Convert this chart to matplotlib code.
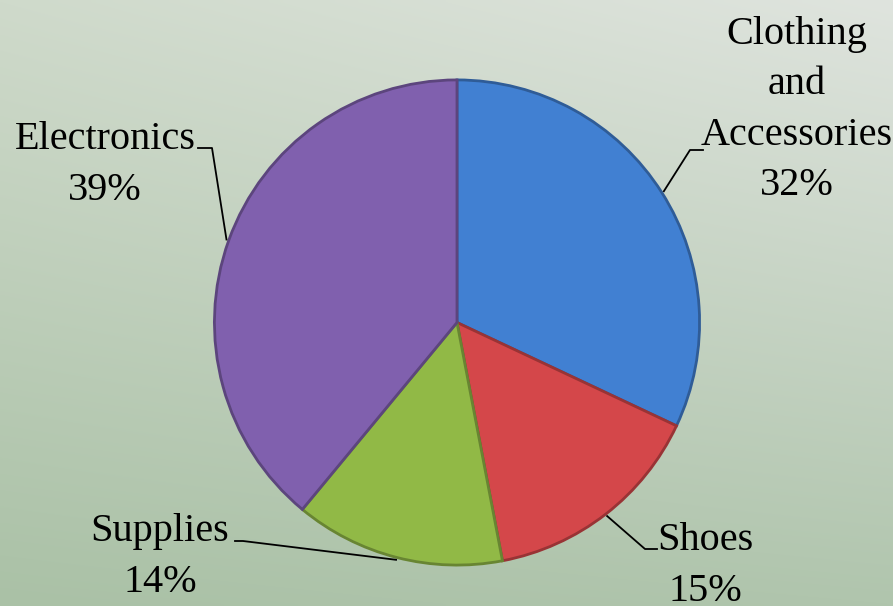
import numpy as np
import matplotlib
matplotlib.use("Agg")
import matplotlib.pyplot as plt
from matplotlib.colors import to_rgb

# data
categories = ["Clothing\nand\nAccessories", "Shoes", "Supplies", "Electronics"]
shares = [32, 15, 14, 39]
colors = ["#4180d2", "#d4474a", "#91b946", "#8060ae"]

# layout (pixels, y from top)
W, H = 893, 606
cx, cy, r = 457, 322.5, 245
label_pos = [(797, 110), (705, 566), (160, 557), (105, 165)]
leader_elbow = [((690, 150), (703, 150)),
                ((645, 549), (657, 549)),
                ((243, 541), (235, 541)),
                ((212, 148), (198, 148))]

fig = plt.figure(figsize=(W / 100, H / 100), dpi=100)

# background gradient
bg = fig.add_axes([0, 0, 1, 1])
bg.set_axis_off()
tl, tr = np.array(to_rgb("#cfdacb")), np.array(to_rgb("#dfe4de"))
bl, br = np.array(to_rgb("#aac1a6")), np.array(to_rgb("#b0c5ad"))
u = np.linspace(0, 1, 200)[None, :, None]
v = np.linspace(0, 1, 140)[:, None, None]
grad = (1 - v) * ((1 - u) * tl + u * tr) + v * ((1 - u) * bl + u * br)
bg.imshow(grad, aspect="auto", extent=[0, 1, 0, 1], interpolation="bilinear")

# pie
ax = fig.add_axes([(cx - r) / W, (H - cy - r) / H, 2 * r / W, 2 * r / H])
wedges, _ = ax.pie(shares, colors=colors, startangle=90, counterclock=False,
                   radius=1.0,
                   wedgeprops=dict(linewidth=2.0, edgecolor="none"))
for w, c in zip(wedges, colors):
    w.set_edgecolor(tuple(np.array(to_rgb(c)) * 0.72))
ax.set_xlim(-1.01, 1.01)
ax.set_ylim(-1.01, 1.01)
ax.set_aspect("auto")

# labels + leaders in pixel coords
ov = fig.add_axes([0, 0, 1, 1])
ov.set_xlim(0, W)
ov.set_ylim(H, 0)
ov.set_axis_off()
ov.patch.set_alpha(0)

total = sum(shares)
start = 90.0
for name, val, pos, (elbow, end) in zip(categories, shares, label_pos, leader_elbow):
    span = val / total * 360
    mid = np.deg2rad(start - span / 2)
    start -= span
    ex, ey = cx + r * np.cos(mid), cy - r * np.sin(mid)
    ov.plot([ex, elbow[0], end[0]], [ey, elbow[1], end[1]], color="black", lw=1.3)
    ov.text(pos[0], pos[1], f"{name}\n{val / total * 100:.0f}%", ha="center", va="center",
            fontsize=29, family="Liberation Serif", linespacing=1.47)

fig.savefig("out.png", dpi=100)
